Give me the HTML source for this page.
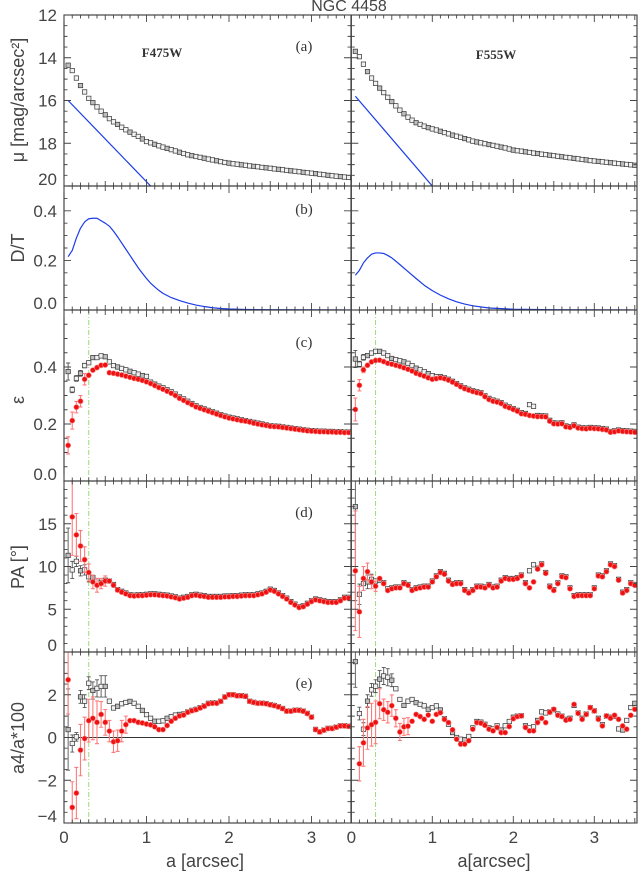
<!DOCTYPE html>
<html><head><meta charset="utf-8"><style>
html,body{margin:0;padding:0;background:#fff;}
svg{display:block;font-family:"Liberation Sans",sans-serif;}
</style></head><body>
<svg id="fig" width="638" height="877" viewBox="0 0 638 877">
<text x="349" y="11" font-size="16" fill="#444" text-anchor="middle">NGC 4458</text>
</svg>
<script>
const radii=[0.05,0.1,0.15,0.2,0.25,0.3,0.35,0.4,0.45,0.5,0.55,0.6,0.65,0.7,0.75,0.8,0.85,0.9,0.95,1.0,1.05,1.1,1.15,1.2,1.25,1.3,1.35,1.4,1.45,1.5,1.55,1.6,1.65,1.7,1.75,1.8,1.85,1.9,1.95,2.0,2.05,2.1,2.15,2.2,2.25,2.3,2.35,2.4,2.45,2.5,2.55,2.6,2.65,2.7,2.75,2.8,2.85,2.9,2.95,3.0,3.05,3.1,3.15,3.2,3.25,3.3,3.35,3.4,3.45,3.5];
const muL=[14.35,14.6,14.95,15.3,15.6,15.9,16.1,16.3,16.5,16.67,16.85,17.0,17.12,17.25,17.37,17.48,17.58,17.68,17.8,17.92,17.98,18.05,18.12,18.18,18.24,18.3,18.36,18.42,18.48,18.54,18.58,18.62,18.66,18.7,18.74,18.78,18.82,18.86,18.9,18.93,18.96,18.98,19.01,19.03,19.06,19.08,19.1,19.13,19.15,19.17,19.2,19.22,19.24,19.27,19.29,19.31,19.33,19.36,19.38,19.4,19.42,19.45,19.47,19.5,19.52,19.54,19.56,19.58,19.6,19.62];
const muR=[13.7,13.95,14.3,14.65,14.95,15.2,15.42,15.63,15.85,16.05,16.25,16.45,16.62,16.78,16.92,17.04,17.12,17.2,17.27,17.33,17.38,17.44,17.5,17.56,17.62,17.67,17.72,17.78,17.84,17.9,17.94,17.98,18.02,18.06,18.1,18.14,18.18,18.22,18.27,18.32,18.35,18.37,18.4,18.43,18.46,18.48,18.51,18.53,18.56,18.58,18.61,18.63,18.66,18.68,18.71,18.73,18.76,18.78,18.81,18.83,18.85,18.87,18.89,18.91,18.93,18.95,18.97,18.99,19.01,19.03];
const diskXL=[0.05,1.05], diskMuL=[16.0,20.0];
const diskXR=[0.05,1.0], diskMuR=[15.8,20.0];
const dtXL=[0.05,0.1,0.15,0.2,0.25,0.3,0.35,0.4,0.45,0.5,0.55,0.6,0.65,0.7,0.75,0.8,0.85,0.9,0.95,1.0,1.05,1.1,1.15,1.2,1.3,1.4,1.5,1.6,1.7,1.8,1.9,2.0,2.2,2.5,3.5];
const dtL=[0.215,0.24,0.29,0.33,0.355,0.368,0.37,0.37,0.36,0.35,0.338,0.318,0.295,0.27,0.245,0.22,0.195,0.17,0.148,0.127,0.108,0.093,0.079,0.067,0.05,0.038,0.028,0.02,0.014,0.009,0.006,0.004,0.002,0.001,0];
const dtXR=[0.05,0.1,0.15,0.2,0.25,0.3,0.35,0.4,0.45,0.5,0.55,0.6,0.7,0.8,0.9,1.0,1.1,1.2,1.3,1.4,1.5,1.7,2.0,2.5,3.5];
const dtR=[0.14,0.16,0.19,0.21,0.225,0.23,0.23,0.228,0.22,0.21,0.197,0.183,0.155,0.127,0.1,0.078,0.06,0.045,0.033,0.024,0.017,0.008,0.003,0.001,0];
const epsGrayL=[0.384,0.32,0.36,0.378,0.405,0.415,0.433,0.433,0.439,0.436,0.418,0.405,0.40,0.395,0.39,0.385,0.38,0.375,0.37,0.367,0.347,0.34,0.333,0.327,0.32,0.313,0.305,0.295,0.288,0.28,0.272,0.264,0.258,0.253,0.248,0.243,0.238,0.233,0.228,0.224,0.221,0.218,0.215,0.212,0.209,0.206,0.203,0.2,0.197,0.194,0.193,0.192,0.19,0.188,0.186,0.184,0.182,0.18,0.178,0.177,0.176,0.175,0.175,0.174,0.174,0.173,0.173,0.172,0.172,0.172];
const epsRedL=[0.125,0.212,0.259,0.28,0.357,0.371,0.389,0.398,0.406,0.407,0.38,0.378,0.375,0.372,0.368,0.364,0.36,0.357,0.353,0.348,0.342,0.335,0.328,0.322,0.315,0.308,0.3,0.29,0.283,0.275,0.268,0.26,0.255,0.25,0.245,0.24,0.235,0.23,0.225,0.221,0.218,0.215,0.212,0.21,0.207,0.203,0.2,0.197,0.195,0.192,0.191,0.19,0.188,0.186,0.184,0.182,0.18,0.178,0.176,0.175,0.174,0.173,0.173,0.172,0.172,0.171,0.171,0.17,0.17,0.17];
const epsGrayR=[0.428,0.41,0.434,0.44,0.449,0.455,0.455,0.449,0.44,0.43,0.426,0.422,0.418,0.413,0.405,0.396,0.39,0.384,0.377,0.37,0.366,0.366,0.362,0.357,0.35,0.342,0.334,0.327,0.322,0.317,0.313,0.31,0.299,0.29,0.284,0.28,0.275,0.266,0.26,0.254,0.248,0.24,0.237,0.268,0.262,0.23,0.229,0.228,0.213,0.204,0.203,0.204,0.193,0.191,0.197,0.189,0.187,0.186,0.188,0.187,0.186,0.184,0.182,0.174,0.176,0.179,0.177,0.176,0.175,0.174];
const epsRedR=[0.251,0.336,0.39,0.406,0.418,0.423,0.424,0.419,0.413,0.41,0.406,0.402,0.397,0.392,0.386,0.378,0.373,0.368,0.362,0.357,0.359,0.362,0.359,0.354,0.347,0.339,0.331,0.324,0.319,0.314,0.31,0.307,0.296,0.286,0.28,0.277,0.272,0.262,0.257,0.251,0.245,0.236,0.234,0.23,0.228,0.226,0.226,0.225,0.21,0.201,0.2,0.201,0.19,0.188,0.194,0.186,0.184,0.183,0.185,0.184,0.183,0.181,0.179,0.171,0.173,0.176,0.174,0.173,0.172,0.171];
const paGrayL=[11.3,9.6,10.6,9.5,9.6,8.8,8.7,8.3,8.1,8.4,8.3,7.9,7.3,7.1,6.9,6.7,6.65,6.7,6.7,6.75,6.8,6.8,6.75,6.7,6.65,6.55,6.45,6.3,6.4,6.5,6.7,6.75,6.65,6.6,6.5,6.5,6.5,6.5,6.55,6.55,6.6,6.6,6.65,6.7,6.7,6.7,6.8,6.9,7.1,7.35,7.2,6.9,6.6,6.3,5.9,5.6,5.3,5.4,5.7,6.0,6.2,6.1,6.0,5.9,5.9,5.9,6.1,6.4,6.4,6.3];
const paRedL=[null,15.8,13.7,12.4,10.8,9.3,8.2,7.8,8.0,8.3,8.3,7.8,7.25,7.0,6.8,6.6,6.55,6.6,6.6,6.65,6.7,6.7,6.65,6.6,6.55,6.45,6.35,6.2,6.3,6.4,6.6,6.65,6.55,6.5,6.4,6.4,6.4,6.4,6.45,6.45,6.5,6.5,6.55,6.6,6.6,6.6,6.7,6.8,7.0,7.25,7.1,6.8,6.5,6.2,5.8,5.5,5.2,5.3,5.6,5.9,6.1,6.0,5.9,5.8,5.8,5.8,6.0,6.3,6.3,6.2];
const paGrayR=[17.0,6.75,8.0,8.2,8.5,8.3,8.4,8.1,7.4,7.5,7.6,7.6,8.1,7.9,7.3,7.5,7.6,7.7,7.7,8.3,8.9,9.4,9.2,8.4,8.0,8.1,8.1,7.3,7.0,7.3,7.7,7.7,7.6,7.9,7.6,7.7,8.4,8.7,8.6,8.6,8.7,9.0,8.1,9.5,10.2,9.8,10.3,9.3,7.7,7.3,8.1,8.9,8.8,7.5,6.6,6.7,6.7,6.7,6.7,7.5,9.0,8.9,9.5,10.3,10.1,8.5,7.0,7.3,8.1,7.9];
const paRedR=[9.5,4.7,8.6,9.4,8.2,7.7,8.6,8.0,7.2,7.4,7.5,7.5,8.0,7.8,7.2,7.4,7.5,7.6,7.6,8.2,8.8,9.3,9.1,8.3,7.9,8.0,8.0,7.2,6.9,7.2,7.6,7.6,7.5,7.8,7.5,7.6,8.3,8.6,8.5,8.5,8.6,8.9,8.0,7.5,8.2,9.7,10.2,9.2,7.6,7.2,8.0,8.8,8.7,7.4,6.5,6.6,6.6,6.6,6.6,7.4,8.9,8.8,9.4,10.2,10.0,8.4,6.9,7.2,8.0,7.8];
const a4GrayL=[0.37,-0.28,0.03,1.9,1.7,2.54,2.2,2.3,2.39,2.39,1.7,1.38,1.46,1.58,1.64,1.69,1.6,1.46,1.27,1.07,0.9,0.76,0.76,0.78,0.9,0.98,1.05,1.08,1.1,1.2,1.27,1.32,1.4,1.48,1.6,1.62,1.62,1.7,1.9,2.0,2.0,1.96,1.96,1.93,1.7,1.65,1.61,1.61,1.59,1.54,1.5,1.44,1.36,1.24,1.24,1.28,1.28,1.24,1.13,0.96,0.38,0.27,0.35,0.43,0.43,0.49,0.55,0.55,0.53,0.51];
const a4RedL=[2.7,-3.27,-2.6,-0.59,-0.05,0.79,0.9,0.71,1.08,0.71,0.3,-0.2,-0.15,0.3,0.6,0.79,0.79,0.71,0.68,0.63,0.59,0.5,0.37,0.37,0.56,0.76,0.9,1.01,1.05,1.18,1.25,1.3,1.38,1.46,1.58,1.6,1.6,1.69,1.89,2.0,2.0,1.95,1.95,1.92,1.69,1.64,1.6,1.6,1.58,1.53,1.49,1.43,1.35,1.23,1.23,1.27,1.27,1.23,1.12,0.95,0.37,0.26,0.34,0.42,0.42,0.48,0.54,0.54,0.52,0.5];
const a4GrayR=[3.55,1.12,0.39,1.7,2.23,2.4,2.73,2.88,2.82,2.68,2.28,1.78,1.5,1.7,1.78,1.63,1.55,1.48,1.32,1.4,1.48,1.29,0.88,0.62,0.23,0.0,-0.08,-0.1,0.05,0.45,0.75,0.72,0.62,0.45,0.4,0.55,0.35,0.55,0.75,0.95,1.0,1.02,0.55,0.45,0.5,0.8,1.2,1.15,1.2,1.3,1.1,1.0,0.85,0.9,1.5,1.15,0.9,1.1,1.4,1.25,0.9,0.6,1.0,0.95,1.0,0.4,0.35,0.8,1.4,1.6];
const a4RedR=[null,-1.23,-0.25,0.45,0.6,0.71,1.58,1.3,1.18,1.49,0.9,0.26,0.5,0.53,0.76,1.08,0.98,0.85,1.05,0.76,1.08,1.16,0.85,0.7,0.36,-0.08,-0.31,-0.31,-0.15,0.39,0.7,0.67,0.57,0.39,0.31,0.47,0.23,0.23,0.51,0.88,0.98,1.01,0.47,0.31,0.31,0.7,0.9,0.7,1.18,1.32,1.04,0.98,0.81,0.85,1.55,1.13,0.85,1.08,1.4,1.24,0.85,0.54,1.01,0.9,1.04,0.85,0.54,0.39,1.04,1.32];
const epsErrGrayL=[0.03,0.01,0.01,0.01,0.008], epsErrRedL=[0.03,0.03,0.02,0.02,0.02];
const epsErrGrayR=[0.03,0.01,0.01], epsErrRedR=[0.04,0.02,0.01];
const paErrGrayL=[3.2,1.0,0.6,0.6,0.6,0.6], paErrRedL=[0,4.5,2.5,1.8,1.5,1.0,0.8,0.8,0.6,0.6];
const paErrGrayR=[11,1.2,0.8,0.8,0.6], paErrRedR=[7,3,1.4,1.0,0.8,0.6];
const a4ErrGrayL=[1.9,0.4,0.2,0.3,0.3,0.3,0.4,0.4,0.5,0.5], a4ErrRedL=[1.6,1.2,1.2,1.2,1.0,1.0,1.0,1.0,0.6,0.6,0.5,0.5,0.5,0.5,0.4];
const a4ErrGrayR=[1.2,0.3,0.3,0.3,0.3,0.3,0.4,0.4,0.4,0.3], a4ErrRedR=[0,0.8,1.1,1.0,1.0,1.0,0.7,0.5,0.5,0.5,0.4,0.4,0.4,0.4];

const NS='http://www.w3.org/2000/svg';
const svg=document.getElementById('fig');
function el(tag,attrs,parent){const e=document.createElementNS(NS,tag);for(const k in attrs)e.setAttribute(k,attrs[k]);(parent||svg).appendChild(e);return e;}
const cols=[{x0:64,x1:351,k:82.5,name:'f475w'},{x0:351.3,x1:637,k:81,name:'f555w'}];
const rows={a:{y0:15,y1:186,top:12,bot:20},b:{y0:186,y1:310,top:0.5,bot:0},c:{y0:310,y1:481,top:0.6,bot:0},d:{y0:481,y1:652,top:20,bot:0},e:{y0:652,y1:823,top:4,bot:-4}};
function sxF(c){return a=>c.x0+a*c.k;}
function syF(r){return v=>r.y0+(v-r.top)/(r.bot-r.top)*(r.y1-r.y0);}
let clipId=0;
function panelGroup(c,r,name){
  const id='clip'+(clipId++);
  const cp=el('clipPath',{id:id});el('rect',{x:c.x0,y:r.y0,width:c.x1-c.x0,height:r.y1-r.y0},cp);
  const g=el('g',{'clip-path':'url(#'+id+')'});
  
  
  return g;
}
function squares(g,c,r,xs,ys,errs,name){
  const sx=sxF(c),sy=syF(r);
  xs.forEach((a,i)=>{const v=ys[i];if(v==null)return;const x=sx(a),y=sy(v);
    const e=(errs&&errs[i])||0;
    if(e>0){const eb=el('path',{d:`M${x},${sy(v-e)}V${sy(v+e)}M${x-2},${sy(v-e)}h4M${x-2},${sy(v+e)}h4`,stroke:'#555','stroke-width':0.9,fill:'none'},g);
      }
    const s=el('rect',{x:x-2.2,y:y-2.2,width:4.4,height:4.4,fill:(i%3==0)?'#bdbdbd':'#f2f2f2',stroke:'#333','stroke-width':0.7},g);
    
    
  });
}
function dots(g,c,r,xs,ys,errs,name){
  const sx=sxF(c),sy=syF(r);
  xs.forEach((a,i)=>{const v=ys[i];if(v==null)return;const x=sx(a),y=sy(v);
    const e=(errs&&errs[i])||0;
    if(e>0){const eb=el('path',{d:`M${x},${sy(v-e)}V${sy(v+e)}M${x-2},${sy(v-e)}h4M${x-2},${sy(v+e)}h4`,stroke:'#ff7b7b','stroke-width':1.1,fill:'none'},g);
      }
    const d=el('circle',{cx:x,cy:y,r:2.6,fill:'#ee1111',stroke:'#ff9090','stroke-width':0.6},g);
    
    
  });
}
function line(g,c,r,xs,ys,name){
  const sx=sxF(c),sy=syF(r);
  const p=el('polyline',{points:xs.map((a,i)=>sx(a)+','+sy(ys[i])).join(' '),fill:'none',stroke:'#1a3be8','stroke-width':1.2,'stroke-linejoin':'round'},g);
  
  
}
function frame(c,r,minor,major,name){
  const sx=sxF(c),sy=syF(r);
  const fr=el('rect',{x:c.x0,y:r.y0,width:c.x1-c.x0,height:r.y1-r.y0,fill:'none',stroke:'#333','stroke-width':1.1});
  
  
  let d='';
  for(let i=0;i<=36;i++){const a=i*0.1;const x=sx(a);if(x>c.x1+0.5)break;const L=(i%10==0)?7:(i%5==0?5:3.5);
    d+=`M${x},${r.y1}v${-L}M${x},${r.y0}v${L}`;}
  const lo=Math.min(r.top,r.bot),hi=Math.max(r.top,r.bot);
  const n=Math.round((hi-lo)/minor);
  for(let i=0;i<=n;i++){const v=lo+i*minor;const y=sy(v);const mj=Math.abs(v/major-Math.round(v/major))<1e-6;const L=mj?7:3.5;
    d+=`M${c.x0},${y}h${L}M${c.x1},${y}h${-L}`;}
  const t=el('path',{d:d,stroke:'#444','stroke-width':0.9,fill:'none'});
  
  
}
function ylabels(r,vals,fmt,name){
  const sy=syF(r);
  vals.forEach(v=>{let y=sy(v)+6;if(y>r.y1)y=r.y1-1;
    const t=el('text',{x:57,y:y,'font-size':17,fill:'#444','text-anchor':'end'});t.textContent=fmt(v);
    });
}
function txt(x,y,s,opts,name){const t=el('text',Object.assign({x:x,y:y,fill:'#333'},opts||{}));t.textContent=s;
  return t;}

const seriesDefs=[
 {col:0,mu:muL,dx:diskXL,dm:diskMuL,dtx:dtXL,dt:dtL,eg:epsGrayL,er:epsRedL,eeg:epsErrGrayL,eer:epsErrRedL,pg:paGrayL,pr:paRedL,peg:paErrGrayL,per:paErrRedL,ag:a4GrayL,ar:a4RedL,aeg:a4ErrGrayL,aer:a4ErrRedL},
 {col:1,mu:muR,dx:diskXR,dm:diskMuR,dtx:dtXR,dt:dtR,eg:epsGrayR,er:epsRedR,eeg:epsErrGrayR,eer:epsErrRedR,pg:paGrayR,pr:paRedR,peg:paErrGrayR,per:paErrRedR,ag:a4GrayR,ar:a4RedR,aeg:a4ErrGrayR,aer:a4ErrRedR}
];
seriesDefs.forEach(S=>{
  const c=cols[S.col],nm=c.name;
  ['c','d','e'].forEach(k=>{const r=rows[k];const x=sxF(c)(0.3);
    const gl=el('line',{x1:x,x2:x,y1:r.y0,y2:r.y1,stroke:'#8fd86a','stroke-width':0.9,'stroke-dasharray':'5,2,1,2'});
    });
  let g=panelGroup(c,rows.a,nm+'-surface-brightness');
  squares(g,c,rows.a,radii,S.mu,null,nm+'-mu');
  line(g,c,rows.a,S.dx,S.dm,nm+'-disk-profile');
  g=panelGroup(c,rows.b,nm+'-disk-to-total');
  line(g,c,rows.b,S.dtx,S.dt,nm+'-dt-curve');
  g=panelGroup(c,rows.c,nm+'-ellipticity');
  squares(g,c,rows.c,radii,S.eg,S.eeg,nm+'-eps-original');
  dots(g,c,rows.c,radii,S.er,S.eer,nm+'-eps-model');
  g=panelGroup(c,rows.d,nm+'-position-angle');
  squares(g,c,rows.d,radii,S.pg,S.peg,nm+'-pa-original');
  dots(g,c,rows.d,radii,S.pr,S.per,nm+'-pa-model');
  g=panelGroup(c,rows.e,nm+'-a4');
  const y0=syF(rows.e)(0);
  const zl=el('line',{x1:c.x0,x2:c.x1,y1:y0,y2:y0,stroke:'#333','stroke-width':0.9},g);
  
  squares(g,c,rows.e,radii,S.ag,S.aeg,nm+'-a4-original');
  dots(g,c,rows.e,radii,S.ar,S.aer,nm+'-a4-model');
  frame(c,rows.a,0.5,2,nm+'-panel-a');
  frame(c,rows.b,0.05,0.2,nm+'-panel-b');
  frame(c,rows.c,0.05,0.2,nm+'-panel-c');
  frame(c,rows.d,1,5,nm+'-panel-d');
  frame(c,rows.e,0.5,2,nm+'-panel-e');
  [0,1,2,3].forEach(a=>{txt(sxF(c)(a),843,String(a),{'font-size':17,fill:'#444','text-anchor':'middle'},nm+'-x-tick-label');});
});
ylabels(rows.a,[12,14,16,18,20],v=>String(v),'mu');
ylabels(rows.b,[0,0.2,0.4],v=>v.toFixed(1),'dt');
ylabels(rows.c,[0,0.2,0.4],v=>v.toFixed(1),'eps');
ylabels(rows.d,[0,5,10,15],v=>String(v),'pa');
ylabels(rows.e,[-4,-2,0,2],v=>(v<0?'\u2212'+(-v):String(v)),'a4');
txt(162,57,'F475W',{'font-size':13,'font-weight':'bold','font-family':'Liberation Serif, serif','text-anchor':'middle'},'filter-label-f475w');
txt(496,59,'F555W',{'font-size':13,'font-weight':'bold','font-family':'Liberation Serif, serif','text-anchor':'middle'},'filter-label-f555w');
[['(a)',51],['(b)',214],['(c)',347],['(d)',517],['(e)',688]].forEach(p=>txt(304,p[1],p[0],{'font-size':15,'font-family':'Liberation Serif, serif','text-anchor':'middle'},'panel-label'));
txt(205,867,'a [arcsec]',{'font-size':18,fill:'#444','text-anchor':'middle'},'x-axis-title-left');
txt(494,867,'a[arcsec]',{'font-size':18,fill:'#444','text-anchor':'middle'},'x-axis-title-right');
function ytitle(x,y,s,name){const t=txt(x,y,s,{'font-size':18,fill:'#444','text-anchor':'middle',transform:`rotate(-90 ${x} ${y})`},name);return t;}
ytitle(24,100,'\u03BC [mag/arcsec\u00B2]','y-axis-title-mu');
ytitle(24,248,'D/T','y-axis-title-dt');
ytitle(24,400,'\u03B5','y-axis-title-eps');
ytitle(24,567,'PA [\u00B0]','y-axis-title-pa');
ytitle(24,738,'a4/a*100','y-axis-title-a4');
</script>
</body></html>
